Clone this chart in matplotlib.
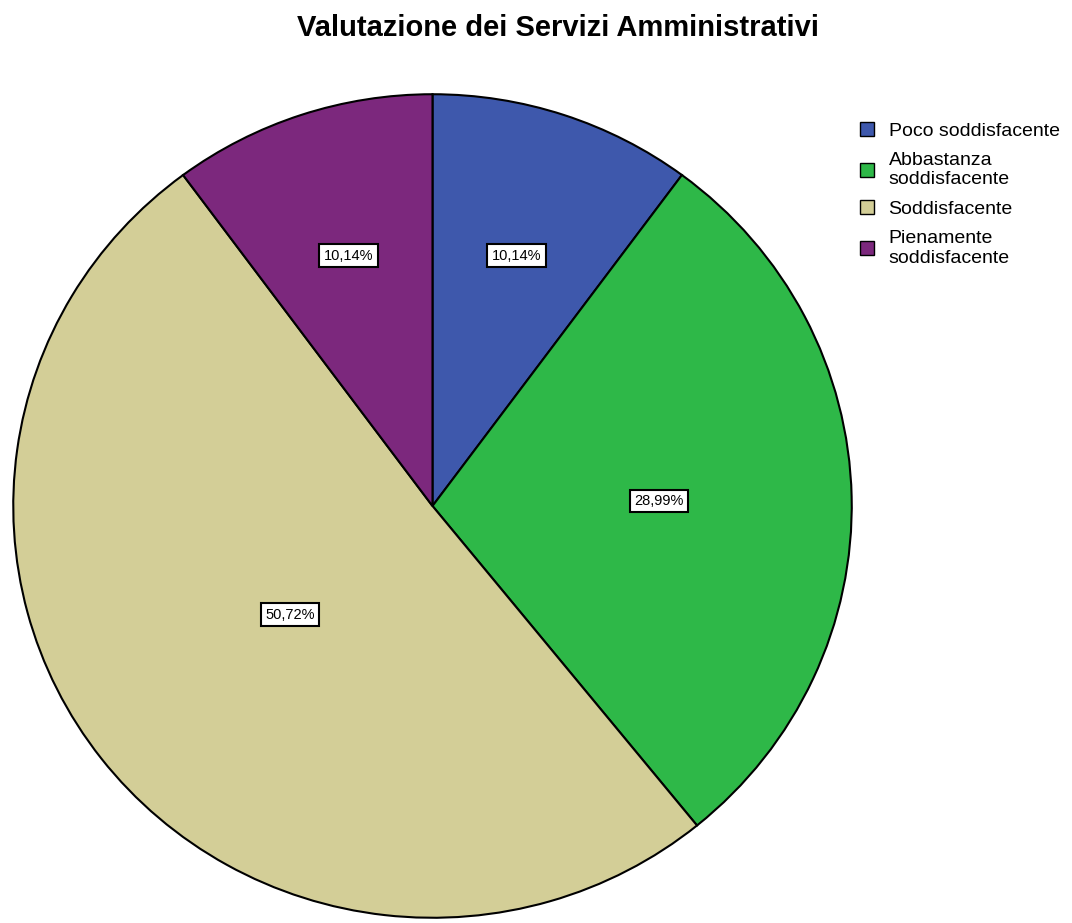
import numpy as np
import matplotlib.pyplot as plt
from matplotlib.patches import Patch

plt.rcParams['font.family'] = ['Liberation Sans', 'DejaVu Sans']

# Data
categories = ["Poco soddisfacente", "Abbastanza\nsoddisfacente",
              "Soddisfacente", "Pienamente\nsoddisfacente"]
percentages = [10.14, 28.99, 50.72, 10.14]
pct_labels = ["10,14%", "28,99%", "50,72%", "10,14%"]
colors = ["#3E58AC", "#2EB848", "#D3CE97", "#7C287D"]
label_dist = [0.64, 0.54, 0.43, 0.64]

W, H = 1072, 923
fig = plt.figure(figsize=(W / 100, H / 100), dpi=100)

# pie occupies a fixed pixel box (slightly oval, as in the source)
ax = fig.add_axes([12 / W, 4 / H, 841 / W, 826 / H])
wedges, _ = ax.pie(percentages, colors=colors, startangle=90, counterclock=False,
                   wedgeprops=dict(edgecolor="black", linewidth=1.5))
ax.set_aspect("auto")
ax.set_xlim(-1.003, 1.003)
ax.set_ylim(-1.003, 1.003)

# percentage labels in white boxes
for w, lab, d in zip(wedges, pct_labels, label_dist):
    ang = np.deg2rad((w.theta1 + w.theta2) / 2)
    ax.text(d * np.cos(ang), d * np.sin(ang), lab, ha="center", va="center",
            fontsize=10.5, bbox=dict(boxstyle="square,pad=0.3", fc="white",
                                     ec="black", lw=1.5))

fig.text(558 / W, 1 - 36 / H, "Valutazione dei Servizi Amministrativi",
         ha="center", va="baseline", fontsize=21, fontweight="bold")

handles = [Patch(facecolor=c, edgecolor="black", linewidth=1.0) for c in colors]
fig.legend(handles, categories, loc="upper left", bbox_to_anchor=(860 / W, 1 - 122 / H),
           frameon=False, fontsize=14, handlelength=0.72, handleheight=0.72,
           handletextpad=0.75, labelspacing=0.62, borderaxespad=0, borderpad=0)

fig.savefig("out.png", dpi=100)
